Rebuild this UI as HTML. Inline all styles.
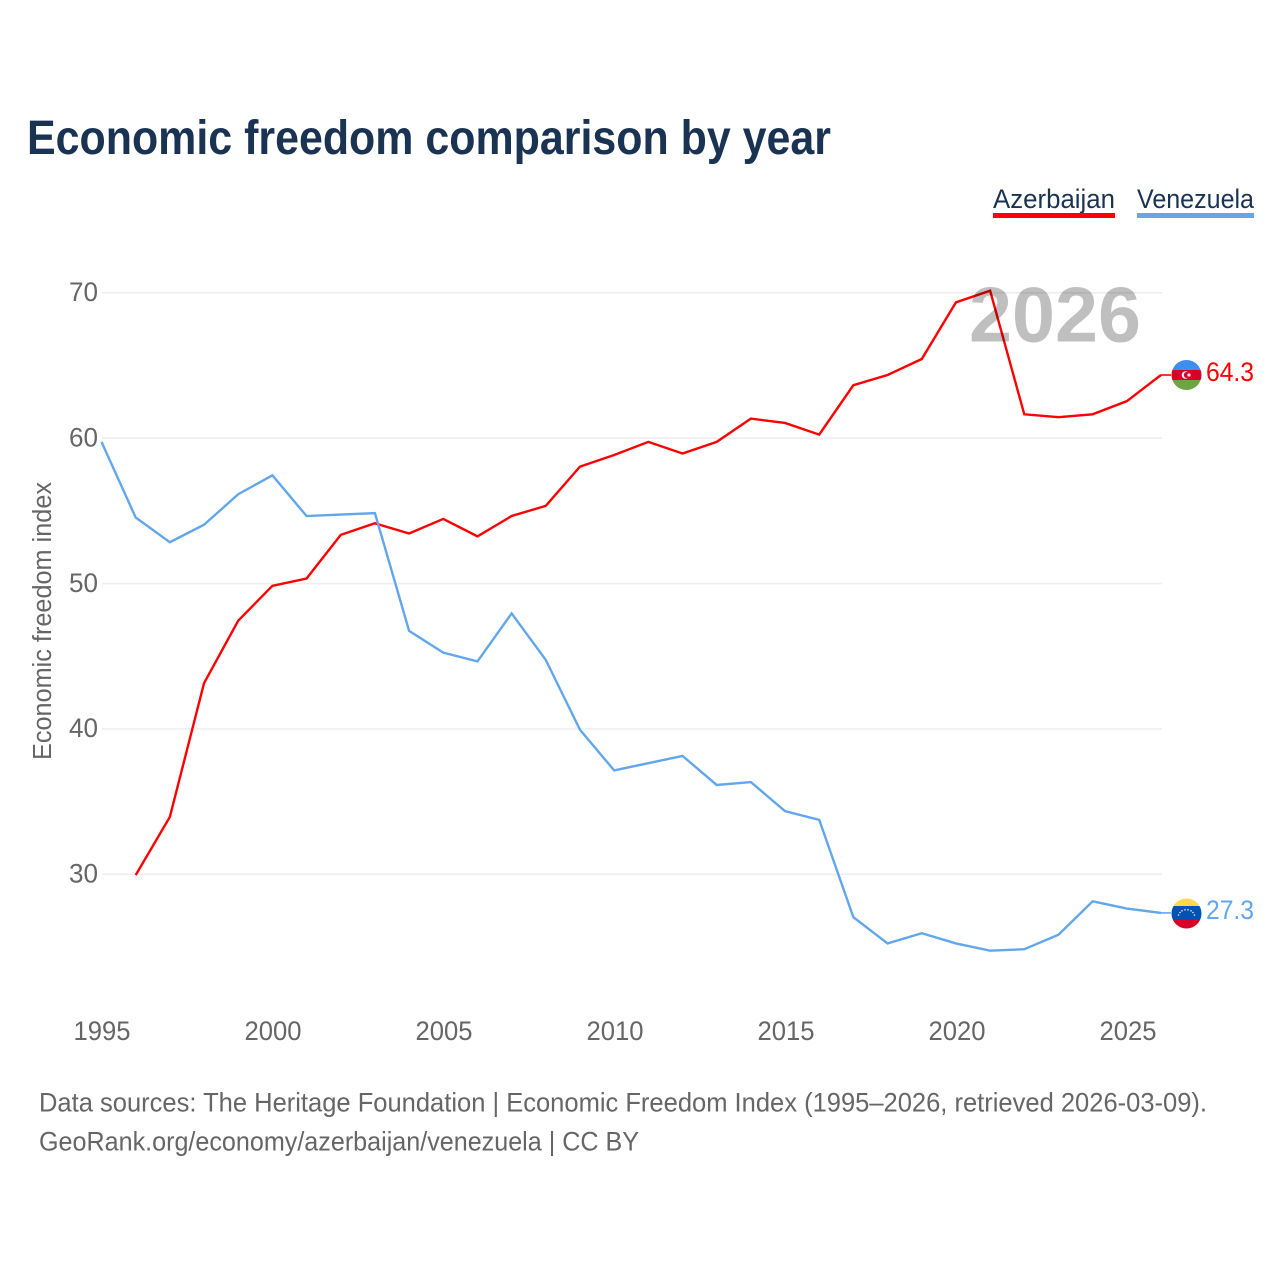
<!DOCTYPE html>
<html lang="en">
<head>
<meta charset="utf-8">
<title>Economic freedom comparison by year</title>
<style>
html,body{margin:0;padding:0;background:#fff;}
svg{display:block;font-family:"Liberation Sans",sans-serif;}
</style>
</head>
<body>
<svg id="chart" xmlns="http://www.w3.org/2000/svg" width="1280" height="1280" viewBox="0 0 1280 1280">
  <rect width="1280" height="1280" fill="#fff"/>
  <text x="27" y="154" font-size="48" font-weight="700" fill="#1b3353" textLength="804" lengthAdjust="spacingAndGlyphs">Economic freedom comparison by year</text>
  <g>
    <text x="993" y="208" font-size="27" fill="#1b3353" textLength="122" lengthAdjust="spacingAndGlyphs">Azerbaijan</text>
    <rect x="993" y="213" width="122" height="5" fill="#ff0000"/>
    <text x="1137" y="208" font-size="27" fill="#1b3353" textLength="117" lengthAdjust="spacingAndGlyphs">Venezuela</text>
    <rect x="1137" y="213" width="117" height="5" fill="#62a6ec"/>
  </g>
  <g id="grid"></g>
  <g id="yticks"></g>
  <g id="xticks"></g>
  <text transform="translate(51,621) rotate(-90)" text-anchor="middle" font-size="25.5" fill="#666" textLength="278" lengthAdjust="spacingAndGlyphs">Economic freedom index</text>
  <g id="series"></g>
  <text x="969" y="341.5" font-size="78" font-weight="700" fill="#000" fill-opacity="0.25" textLength="172" lengthAdjust="spacingAndGlyphs">2026</text>
  <defs>
    <clipPath id="clip-az"><circle cx="1186.5" cy="375" r="15"/></clipPath>
    <clipPath id="clip-ve"><circle cx="1186.5" cy="913.5" r="15"/></clipPath>
  </defs>
  <g clip-path="url(#clip-az)">
    <rect x="1171" y="359" width="31" height="11" fill="#3d8ef0"/>
    <rect x="1171" y="370" width="31" height="10" fill="#d80027"/>
    <rect x="1171" y="380" width="31" height="12" fill="#6da544"/>
    <circle cx="1185.5" cy="375" r="3.8" fill="#f4f4f4"/>
    <circle cx="1186.8" cy="375" r="3" fill="#d80027"/>
    <circle cx="1189" cy="375" r="1.6" fill="#f4f4f4"/>
  </g>
  <g clip-path="url(#clip-ve)">
    <rect x="1171" y="898" width="31" height="8" fill="#ffda44"/>
    <rect x="1171" y="906" width="31" height="14" fill="#0052b4"/>
    <rect x="1171" y="920" width="31" height="10" fill="#d80027"/>
    <g fill="#e8eef8">
      <circle cx="1178.5" cy="915" r=".8"/><circle cx="1180" cy="912.5" r=".8"/><circle cx="1182" cy="910.8" r=".8"/><circle cx="1185" cy="909.8" r=".8"/><circle cx="1188" cy="909.8" r=".8"/><circle cx="1191" cy="910.8" r=".8"/><circle cx="1193" cy="912.5" r=".8"/><circle cx="1194.5" cy="915" r=".8"/>
    </g>
  </g>
  <g id="endlabels"></g>
  <text x="39" y="1111.5" font-size="26.5" fill="#666" textLength="1168" lengthAdjust="spacingAndGlyphs">Data sources: The Heritage Foundation | Economic Freedom Index (1995–2026, retrieved 2026-03-09).</text>
  <text x="39" y="1150.5" font-size="26.5" fill="#666" textLength="600" lengthAdjust="spacingAndGlyphs">GeoRank.org/economy/azerbaijan/venezuela | CC BY</text>
</svg>
<script>
const years = [1995,1996,1997,1998,1999,2000,2001,2002,2003,2004,2005,2006,2007,2008,2009,2010,2011,2012,2013,2014,2015,2016,2017,2018,2019,2020,2021,2022,2023,2024,2025,2026];
const azerbaijan = [null,30.0,34.0,43.2,47.5,49.9,50.4,53.4,54.2,53.5,54.5,53.3,54.7,55.4,58.1,58.9,59.8,59.0,59.8,61.4,61.1,60.3,63.7,64.4,65.5,69.4,70.2,61.7,61.5,61.7,62.6,64.4];
const venezuela = [59.8,54.6,52.9,54.1,56.2,57.5,54.7,54.8,54.9,46.8,45.3,44.7,48.0,44.8,40.0,37.2,37.7,38.2,36.2,36.4,34.4,33.8,27.1,25.3,26.0,25.3,24.8,24.9,25.9,28.2,27.7,27.4];
const printedEndValues = ['64.3','27.3'];
const yTickValues = [70,60,50,40,30];
const xTickValues = [1995,2000,2005,2010,2015,2020,2025];

const NS = 'http://www.w3.org/2000/svg';
function xScale(year) { return 101.5 + (year - 1995) * (1161 - 101.5) / 31; }
function yScale(value) { return 293.6 + (70 - value) * (874.5 - 293) / 40; }
function gridY(value) { return 292.8 + (70 - value) * (874.5 - 293) / 40; }
function make(tag, parent, attrs, text) {
  const el = document.createElementNS(NS, tag);
  for (const key in attrs) el.setAttribute(key, attrs[key]);
  if (text !== undefined) el.textContent = text;
  parent.appendChild(el);
  return el;
}
const gridG = document.getElementById('grid');
const yG = document.getElementById('yticks');
const xG = document.getElementById('xticks');
const seriesG = document.getElementById('series');
const endG = document.getElementById('endlabels');

yTickValues.forEach(function (v) {
  const line = make('line', gridG, {x1: 102, x2: 1162, y1: gridY(v), y2: gridY(v), stroke: '#eeeeee', 'stroke-width': 1.6});
  
  
  const label = make('text', yG, {x: 98, y: gridY(v) + 8.2, 'text-anchor': 'end', 'font-size': 26.5, fill: '#666', textLength: 29, lengthAdjust: 'spacingAndGlyphs'}, String(v));
  
  
});
xTickValues.forEach(function (y) {
  const label = make('text', xG, {x: 102 + (y - 1995) * 34.2, y: 1040, 'text-anchor': 'middle', 'font-size': 26.5, fill: '#666', textLength: 57, lengthAdjust: 'spacingAndGlyphs'}, String(y));
  
  
});
function linePoints(values) {
  const pts = [];
  values.forEach(function (v, i) {
    if (v !== null) pts.push(xScale(years[i]).toFixed(2) + ',' + yScale(v).toFixed(2));
  });
  return pts;
}
function connector(values) {
  const last = values[values.length - 1];
  return 'M' + xScale(years[years.length - 1]) + ' ' + yScale(last) + 'H1171';
}
const azLine = make('polyline', seriesG, {points: linePoints(azerbaijan).join(' '), fill: 'none', stroke: '#ff0000', 'stroke-width': 2.4});


const veLine = make('polyline', seriesG, {points: linePoints(venezuela).join(' '), fill: 'none', stroke: '#62a6ec', 'stroke-width': 2.4});


const azConn = make('path', seriesG, {d: connector(azerbaijan), fill: 'none', stroke: '#ff0000', 'stroke-width': 1.6});


const veConn = make('path', seriesG, {d: connector(venezuela), fill: 'none', stroke: '#62a6ec', 'stroke-width': 1.6});



const azEnd = azerbaijan[azerbaijan.length - 1];
const veEnd = venezuela[venezuela.length - 1];
const azLabel = make('text', endG, {x: 1206, y: yScale(azEnd) + 6, 'font-size': 26.5, fill: '#ff0000', textLength: 48, lengthAdjust: 'spacingAndGlyphs'}, printedEndValues[0]);


const veLabel = make('text', endG, {x: 1206, y: yScale(veEnd) + 6, 'font-size': 26.5, fill: '#62a6ec', textLength: 48, lengthAdjust: 'spacingAndGlyphs'}, printedEndValues[1]);


</script>
</body>
</html>
